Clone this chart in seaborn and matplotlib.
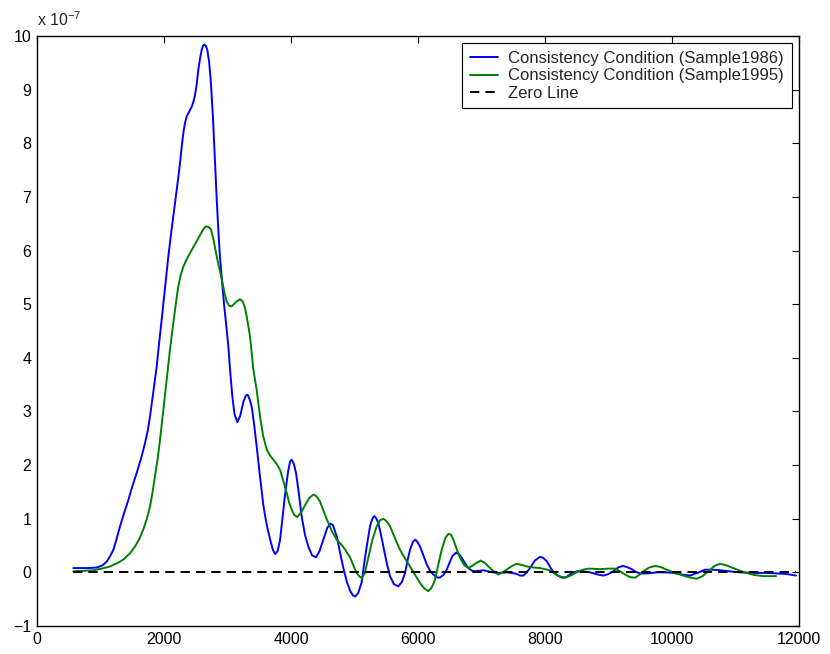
import matplotlib
matplotlib.use("Agg")
import matplotlib.pyplot as plt
import numpy as np
import pandas as pd
import seaborn as sns

# values, y in units of 1e-7
blue_x = [572, 800, 940, 1030, 1097, 1150, 1202, 1255, 1307, 1370, 1438, 1500, 1569, 1640,
          1701, 1745, 1780, 1830, 1885, 1925, 1963, 2020, 2068, 2120, 2173, 2215, 2252,
          2280, 2304, 2330, 2357, 2400, 2436, 2465, 2488, 2515, 2540, 2570, 2593, 2615,
          2635, 2660, 2682, 2710, 2735, 2770, 2803, 2830, 2855, 2880, 2908, 2945, 2976,
          3013, 3045, 3076, 3110, 3155, 3200, 3250, 3290, 3318, 3350, 3381, 3420, 3459,
          3510, 3564, 3615, 3669, 3715, 3750, 3790, 3827, 3865, 3906, 3950, 3985, 4011,
          4045, 4079, 4120, 4168, 4220, 4273, 4330, 4394, 4450, 4509, 4570, 4620, 4660,
          4720, 4770, 4824, 4880, 4929, 4975, 5012, 5060, 5113, 5150, 5192, 5244, 5280,
          5310, 5345, 5375, 5420, 5454, 5510, 5559, 5620, 5690, 5745, 5796, 5840, 5874,
          5920, 5955, 5990, 6032, 6090, 6137, 6190, 6242, 6290, 6336, 6400, 6452, 6500,
          6540, 6600, 6650, 6689, 6740, 6793, 6850, 6898, 6960, 7029, 7100, 7186, 7290,
          7396, 7480, 7554, 7610, 7659, 7710, 7764, 7840, 7921, 7970, 8026, 8080, 8130,
          8200, 8270, 8330, 8420, 8499, 8600, 8710, 8830, 8919, 9000, 9076, 9150, 9223,
          9290, 9365, 9430, 9496, 9600, 9759, 9900, 10021, 10150, 10284, 10400, 10520,
          10640, 10756, 10900, 11071, 11300, 11491, 11650, 11800, 11953]
blue_y = [0.08, 0.08, 0.09, 0.13, 0.20, 0.30, 0.42, 0.63, 0.86, 1.10, 1.35, 1.60, 1.85, 2.13,
          2.41, 2.65, 2.91, 3.35, 3.84, 4.30, 4.71, 5.35, 5.89, 6.40, 6.88, 7.27, 7.63,
          7.95, 8.19, 8.38, 8.50, 8.60, 8.68, 8.78, 8.90, 9.10, 9.37, 9.60, 9.74, 9.82,
          9.84, 9.81, 9.74, 9.52, 9.18, 8.50, 7.63, 6.95, 6.39, 5.90, 5.50, 5.00, 4.65,
          4.21, 3.70, 3.28, 2.95, 2.80, 2.92, 3.18, 3.30, 3.31, 3.22, 3.09, 2.75, 2.35,
          1.80, 1.25, 0.90, 0.62, 0.42, 0.34, 0.40, 0.60, 1.00, 1.45, 1.85, 2.07, 2.10,
          2.02, 1.85, 1.50, 1.04, 0.70, 0.48, 0.32, 0.28, 0.40, 0.61, 0.83, 0.91, 0.88,
          0.67, 0.38, 0.08, -0.18, -0.34, -0.43, -0.45, -0.38, -0.18, 0.15, 0.48, 0.86, 1.00,
          1.05, 1.00, 0.92, 0.68, 0.48, 0.16, -0.07, -0.22, -0.26, -0.18, -0.01, 0.25, 0.42,
          0.57, 0.61, 0.57, 0.48, 0.30, 0.15, 0.03, -0.04, -0.09, -0.10, -0.05, 0.05, 0.19,
          0.30, 0.37, 0.33, 0.27, 0.17, 0.08, 0.03, 0.02, 0.03, 0.04, 0.02, 0.00, -0.01,
          0.00, -0.01, -0.03, -0.06, -0.06, 0.00, 0.08, 0.22, 0.29, 0.27, 0.21, 0.10, 0.01,
          -0.06, -0.10, -0.09, -0.02, 0.02, 0.02, 0.00, -0.04, -0.06, -0.03, 0.02, 0.09, 0.12,
          0.10, 0.06, 0.01, -0.02, -0.02, 0.00, 0.00, -0.01, -0.04, -0.06, -0.01, 0.05,
          0.05, 0.04, 0.02, 0.00, -0.01, -0.01, -0.02, -0.03, -0.06]

green_x = [572, 750, 887, 1020, 1150, 1260, 1360, 1460, 1543, 1610, 1674, 1730, 1780, 1820,
           1858, 1900, 1937, 1975, 2016, 2055, 2094, 2135, 2173, 2200, 2225, 2265, 2304,
           2370, 2436, 2500, 2567, 2620, 2661, 2700, 2740, 2780, 2819, 2865, 2913, 2950,
           2987, 3025, 3066, 3130, 3197, 3240, 3276, 3310, 3354, 3407, 3459, 3512, 3560,
           3617, 3670, 3722, 3775, 3827, 3880, 3932, 3970, 4011, 4050, 4099, 4160, 4225,
           4290, 4352, 4400, 4457, 4520, 4588, 4650, 4720, 4790, 4850, 4929, 4982, 5034,
           5080, 5113, 5160, 5218, 5280, 5349, 5400, 5454, 5500, 5559, 5640, 5716, 5800,
           5874, 5950, 6032, 6100, 6163, 6215, 6268, 6320, 6373, 6430, 6478, 6520, 6557,
           6610, 6662, 6730, 6793, 6850, 6898, 6987, 7050, 7108, 7190, 7265, 7330, 7396,
           7480, 7554, 7630, 7712, 7820, 7921, 8000, 8079, 8132, 8220, 8315, 8420, 8525,
           8600, 8683, 8867, 9000, 9103, 9180, 9260, 9340, 9418, 9480, 9549, 9640, 9733,
           9820, 9917, 10020, 10126, 10260, 10389, 10480, 10572, 10670, 10756, 10860,
           10966, 11070, 11176, 11300, 11438, 11550, 11638]
green_y = [0.02, 0.03, 0.04, 0.07, 0.11, 0.17, 0.24, 0.35, 0.48, 0.62, 0.80, 1.00, 1.23, 1.50,
           1.79, 2.12, 2.47, 2.88, 3.34, 3.75, 4.15, 4.55, 4.89, 5.13, 5.33, 5.55, 5.70,
           5.87, 6.01, 6.15, 6.29, 6.40, 6.45, 6.44, 6.39, 6.20, 5.95, 5.70, 5.45, 5.22,
           5.05, 4.97, 4.96, 5.04, 5.09, 5.05, 4.93, 4.72, 4.40, 3.78, 3.40, 2.91, 2.55,
           2.29, 2.18, 2.10, 2.02, 1.91, 1.70, 1.48, 1.30, 1.17, 1.07, 1.03, 1.12, 1.26,
           1.39, 1.45, 1.42, 1.32, 1.12, 0.92, 0.75, 0.61, 0.52, 0.43, 0.28, 0.13, -0.01,
           -0.08, -0.10, -0.02, 0.28, 0.60, 0.86, 0.97, 1.00, 0.96, 0.86, 0.63, 0.42, 0.25,
           0.11, -0.04, -0.20, -0.30, -0.35, -0.28, -0.14, 0.15, 0.42, 0.64, 0.72, 0.70, 0.61,
           0.43, 0.27, 0.13, 0.08, 0.12, 0.16, 0.22, 0.18, 0.11, 0.02, -0.04, 0.00, 0.05,
           0.12, 0.16, 0.14, 0.11, 0.09, 0.08, 0.06, 0.04, -0.01, -0.07, -0.10, -0.05, 0.02,
           0.05, 0.07, 0.06, 0.07, 0.07, 0.02, -0.04, -0.09, -0.10, -0.05, 0.02, 0.09, 0.12,
           0.10, 0.05, 0.00, -0.04, -0.09, -0.12, -0.07, 0.02, 0.12, 0.16, 0.13,
           0.08, 0.03, -0.01, -0.05, -0.07, -0.07, -0.07]

zero_x = [572, 11953]
zero_y = [0.0, 0.0]

labels = ["Consistency Condition (Sample1986)", "Consistency Condition (Sample1995)", "Zero Line"]

sns.set_style("white")
plt.rcParams['font.family'] = ['Liberation Sans', 'DejaVu Sans']

fig, ax = plt.subplots(figsize=(8.3, 6.54), dpi=100)
fig.subplots_adjust(left=0.0446, right=0.9627, bottom=0.0428, top=0.945)

sns.lineplot(x=blue_x, y=blue_y, color="#0000ff", lw=1.4, label=labels[0], ax=ax,
             estimator=None, sort=False)
sns.lineplot(x=green_x, y=green_y, color="#008000", lw=1.4, label=labels[1], ax=ax,
             estimator=None, sort=False)
ax.plot(zero_x, zero_y, color="black", lw=1.4, ls=(0, (4.8, 3.1)), label=labels[2])

ax.set_xlim(0, 12000)
ax.set_ylim(-1, 10)
ax.set_xticks(np.arange(0, 12001, 2000))
ax.set_yticks(np.arange(-1, 11, 1))
ax.set_yticklabels([("\u22121" if v < 0 else str(v)) for v in range(-1, 11)])
ax.tick_params(direction="in", top=True, right=True, length=5, width=0.8,
               labelsize=11.5, colors="black", pad=4)
for s in ax.spines.values():
    s.set_color("black")
    s.set_linewidth(1.0)

ax.text(0.0, 1.012, "x 10$^{\\mathregular{-7}}$", transform=ax.transAxes, fontsize=11.5,
        ha="left", va="bottom")

leg = ax.legend(loc="upper right", fontsize=12, frameon=True, fancybox=False,
                edgecolor="black", framealpha=1, borderaxespad=0.45, handlelength=1.7,
                labelspacing=0.15, borderpad=0.45, handletextpad=0.6)
leg.get_frame().set_linewidth(0.8)

fig.savefig("out.png", dpi=100)
